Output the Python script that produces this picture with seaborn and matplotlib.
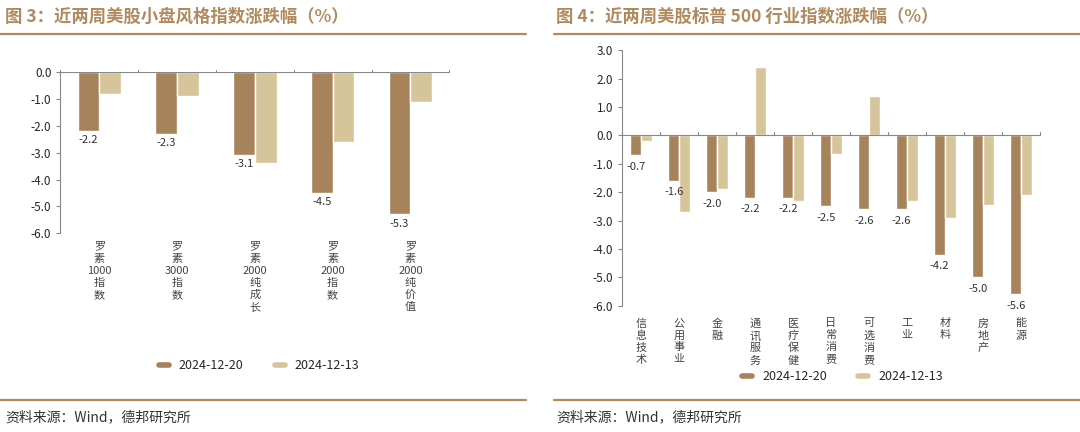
import numpy as np
import pandas as pd
import matplotlib
matplotlib.use("Agg")
import matplotlib.pyplot as plt
import seaborn as sns
from matplotlib.lines import Line2D

sns.set_style("white")
plt.rcParams['font.family'] = ['Noto Sans CJK SC', 'DejaVu Sans']

left_cats = ["罗素1000指数", "罗素3000指数", "罗素2000纯成长", "罗素2000指数", "罗素2000纯价值"]
left_d1 = [-2.2, -2.3, -3.1, -4.5, -5.3]
left_d2 = [-0.8, -0.9, -3.4, -2.6, -1.1]

right_cats = ["信息技术", "公用事业", "金融", "通讯服务", "医疗保健", "日常消费",
              "可选消费", "工业", "材料", "房地产", "能源"]
right_d1 = [-0.7, -1.6, -2.0, -2.2, -2.2, -2.5, -2.6, -2.6, -4.2, -5.0, -5.6]
right_d2 = [-0.2, -2.7, -1.9, 2.4, -2.3, -0.65, 1.4, -2.3, -2.9, -2.45, -2.1]

dates = ["2024-12-20", "2024-12-13"]
colors = ["#A6835A", "#D6C59A"]
brown = "#B08A5E"


def vlabel(s):
    # stack characters vertically, keep digit runs together
    parts, buf = [], ""
    for ch in s:
        if ch.isdigit():
            buf += ch
        else:
            if buf:
                parts.append(buf)
                buf = ""
            parts.append(ch)
    if buf:
        parts.append(buf)
    return "\n".join(parts)


def draw(ax, cats, d1, d2, ylim, step, width, pad):
    df = pd.DataFrame({"cat": cats * 2, "val": d1 + d2,
                       "date": [dates[0]] * len(cats) + [dates[1]] * len(cats)})
    sns.barplot(data=df, x="cat", y="val", hue="date", palette=colors, ax=ax,
                width=width, gap=0, legend=False, saturation=1)
    n = len(cats)
    for i, v in enumerate(d1):
        ax.text(i - width / 4, v - (ylim[1] - ylim[0]) * 0.025, "%.1f" % v,
                ha="center", va="top", fontsize=8, color="#333333")
    ax.set_ylim(*ylim)
    ax.set_xlim(-0.5, n - 0.5)
    ticks = np.arange(ylim[0], ylim[1] + 0.01, step)
    ax.set_yticks(ticks)
    ax.set_yticklabels(["%.1f" % t for t in ticks], fontsize=8.5)
    ax.axhline(0, color="#888888", lw=0.8, zorder=3)
    for b in np.arange(-0.5, n, 1.0):
        ax.plot([b, b], [0, (ylim[1] - ylim[0]) * 0.012], color="#888888", lw=0.8,
                clip_on=False)
    ax.set_xticks(range(n))
    ax.set_xticklabels([vlabel(c) for c in cats], fontsize=8, color="#444444",
                       linespacing=1.25, va="top")
    ax.tick_params(axis="x", length=0, pad=pad)
    ax.tick_params(axis="y", length=3, color="#888888", left=True)
    for s in ["top", "right", "bottom"]:
        ax.spines[s].set_visible(False)
    ax.spines["left"].set_color("#888888")
    ax.set_xlabel("")
    ax.set_ylabel("")


fig = plt.figure(figsize=(10.8, 4.32), dpi=100)
ax1 = fig.add_axes([0.056, 0.46, 0.36, 0.373])
ax2 = fig.add_axes([0.576, 0.292, 0.387, 0.592])
draw(ax1, left_cats, left_d1, left_d2, (-6, 0), 1.0, 0.56, 6)
draw(ax2, right_cats, right_d1, right_d2, (-6, 3), 1.0, 0.56, 9)

handles = [Line2D([], [], color=c, lw=4) for c in colors]
fig.legend(handles, dates, loc="center", bbox_to_anchor=(0.24, 0.153), ncol=2,
           frameon=False, fontsize=9, handlelength=0.8, columnspacing=2.5)
fig.legend(handles, dates, loc="center", bbox_to_anchor=(0.78, 0.128), ncol=2,
           frameon=False, fontsize=9, handlelength=0.8, columnspacing=2.5)

fig.text(0.005, 0.962, "图 3：近两周美股小盘风格指数涨跌幅（%）", fontsize=12.5,
         fontweight="bold", color=brown, va="center")
fig.text(0.515, 0.962, "图 4：近两周美股标普 500 行业指数涨跌幅（%）", fontsize=12.5,
         fontweight="bold", color=brown, va="center")
fig.text(0.005, 0.033, "资料来源：Wind，德邦研究所", fontsize=10, color="#333333", va="center")
fig.text(0.515, 0.033, "资料来源：Wind，德邦研究所", fontsize=10, color="#333333", va="center")
for x0, x1 in [(0.0, 0.487), (0.513, 1.0)]:
    fig.add_artist(Line2D([x0, x1], [0.922, 0.922], color=brown, lw=1.6))
    fig.add_artist(Line2D([x0, x1], [0.074, 0.074], color=brown, lw=1.6))

fig.savefig("out.png", dpi=100)
